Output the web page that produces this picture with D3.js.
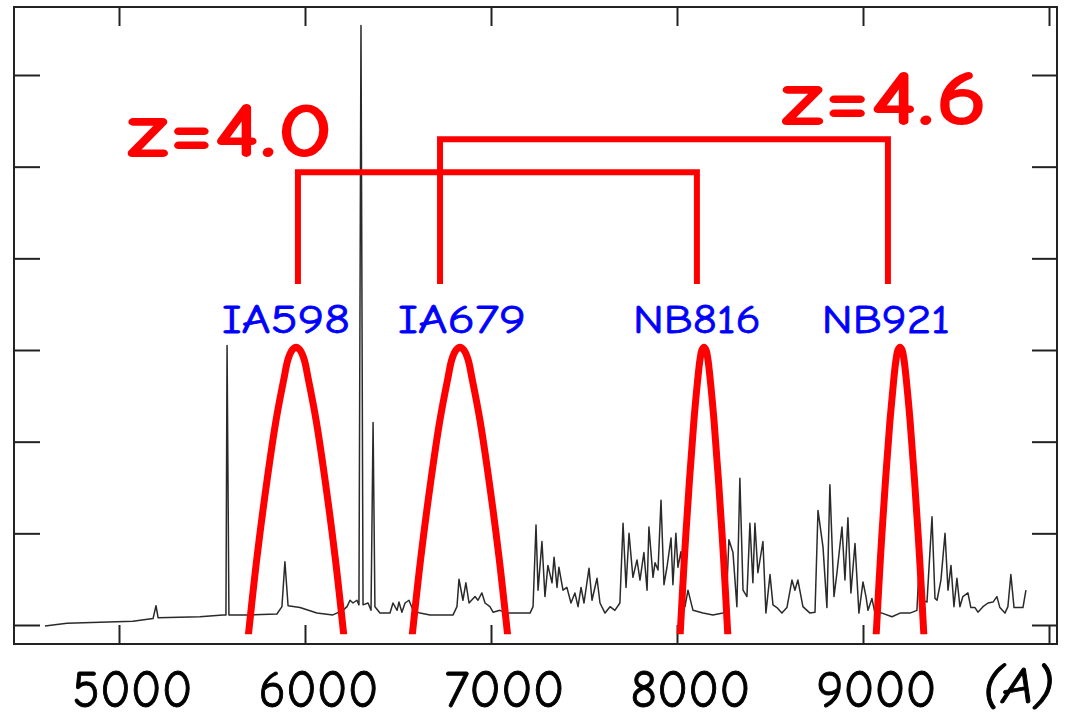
<!DOCTYPE html>
<html><head><meta charset="utf-8">
<script src="https://cdn.jsdelivr.net/npm/d3@7"></script>
<style>body{margin:0;background:#fff}svg{display:block}</style>
</head><body>
<script>
// ---- data ----
const wavelength = [4602,4720,4898,5075,5183,5199,5210,5435,5559,5575,5581,5591,5704,5849,5876,5892,5909,5973,6064,6150,6204,6226,6242,6258,6279,6290,6301,6312,6339,6355,6366,6376,6403,6457,6473,6495,6505,6521,6538,6559,6581,6618,6672,6796,6817,6828,6849,6865,6882,6914,6930,6951,6968,6994,7011,7048,7086,7210,7226,7242,7253,7274,7290,7306,7328,7339,7355,7365,7387,7408,7430,7451,7468,7484,7500,7527,7543,7570,7586,7613,7640,7666,7693,7710,7726,7742,7763,7785,7801,7822,7839,7849,7871,7882,7898,7914,7930,7946,7968,7978,7994,8005,8021,8043,8059,8086,8140,8193,8247,8263,8279,8301,8322,8338,8355,8376,8392,8408,8419,8435,8462,8478,8500,8516,8537,8564,8591,8618,8634,8650,8677,8715,8742,8758,8785,8806,8822,8844,8860,8887,8903,8919,8935,8957,8978,9000,9016,9027,9048,9064,9102,9156,9199,9252,9290,9306,9322,9344,9371,9387,9398,9419,9441,9457,9473,9489,9505,9521,9537,9564,9580,9602,9618,9645,9672,9699,9720,9736,9763,9779,9795,9812,9844,9860,9876];
const flux = [-0.01,0.02,0.03,0.04,0.07,0.21,0.08,0.09,0.11,0.11,3.05,0.11,0.11,0.12,0.20,0.69,0.21,0.19,0.13,0.11,0.16,0.20,0.27,0.24,0.27,0.22,6.54,0.22,0.24,0.16,2.21,0.20,0.13,0.13,0.24,0.16,0.25,0.14,0.24,0.27,0.16,0.13,0.11,0.11,0.20,0.50,0.27,0.46,0.24,0.31,0.27,0.35,0.24,0.20,0.14,0.16,0.13,0.13,0.20,1.09,0.38,0.91,0.31,0.65,0.46,0.74,0.41,0.63,0.38,0.41,0.24,0.35,0.20,0.41,0.24,0.62,0.27,0.51,0.24,0.13,0.20,0.16,0.24,1.11,0.41,1.00,0.52,0.71,0.49,0.79,0.38,1.07,0.52,0.68,0.60,1.36,0.44,0.63,0.95,0.44,1.00,0.63,0.80,0.20,0.38,0.16,0.13,0.11,0.13,0.14,0.93,0.79,0.20,1.60,0.38,0.31,1.11,0.46,1.11,0.57,0.91,0.13,0.55,0.22,0.19,0.13,0.19,0.49,0.38,0.49,0.20,0.13,0.14,1.25,0.85,0.19,1.53,0.31,0.57,1.07,0.49,1.17,0.35,0.89,0.13,0.47,0.31,0.16,0.29,0.13,0.13,0.09,0.13,0.13,0.16,0.82,0.27,0.25,1.18,0.29,0.27,0.49,1.00,0.38,0.65,0.20,0.51,0.20,0.31,0.35,0.19,0.19,0.14,0.20,0.24,0.25,0.31,0.19,0.13,0.20,0.55,0.19,0.19,0.19,0.38];

const xTicks = [5000,6000,7000,8000,9000,10000];
const xTickLabels = ["5000","6000","7000","8000","9000",""];
const yTicks = [0,1,2,3,4,5,6];
const unitLabel = "(A)";

const filterNames = ["IA598","IA679","NB816","NB921"];
const filterLabelWl = [5898,6844,8107,9123];
const filterLabelFlux = 3.19;
const filterWl = [
  [5694,5742,5796,5844,5885,5909,5931,5952,5973,5995,6019,6060,6108,6162,6210],
  [6575,6623,6677,6725,6766,6790,6812,6833,6854,6876,6900,6941,6989,7043,7091],
  [8016,8040,8067,8091,8111,8124,8134,8145,8156,8166,8179,8199,8223,8250,8274],
  [9070,9094,9121,9145,9165,9178,9188,9199,9210,9220,9233,9253,9277,9304,9328]
];
const filterHeight = [-0.14,0.74,1.58,2.23,2.67,2.90,3.00,3.03,3.00,2.90,2.67,2.23,1.58,0.74,-0.14];
const filterCut = -0.10;

const zLabels = ["z=4.0","z=4.6"];
const zLabelWl = [5597,9115];
const zLabelFlux = [5.11,5.45];
const bracketLeft = [5962,6726];
const bracketRight = [8107,9134];
const bracketTop = [4.94,5.30];
const bracketBottom = 3.72;

// ---- drawing ----
const W = 1065, H = 720;
const svg = d3.select("body").append("svg").attr("width", W).attr("height", H);
svg.append("rect").attr("width", W).attr("height", H).attr("fill", "#fff");

const x = d3.scaleLinear().domain([5000, 9000]).range([119, 863]);
const y = d3.scaleLinear().domain([0, 6]).range([625, 75]);
const frame = {l: 14, r: 1057, t: 7, b: 644};

const font = "'Comic Sans MS','Comic Neue','DejaVu Sans',sans-serif";

// axes (inward ticks)
function styleAxis(g) {
  g.select(".domain").remove();
  g.selectAll(".tick line").attr("stroke", "#222").attr("stroke-width", 2);
}
const gb = svg.append("g").attr("transform", `translate(0,${frame.b})`)
  .call(d3.axisBottom(x).tickValues(xTicks).tickSizeInner(-19).tickSizeOuter(0)
    .tickFormat((d, i) => xTickLabels[i]));
styleAxis(gb);
gb.selectAll(".tick text")
  .attr("y", 63).attr("dy", 0).attr("dx", 13)
  .attr("fill", "#000").attr("stroke", "#000").attr("stroke-width", 0.9)
  .attr("font-family", font).attr("font-size", 52)
  .each(function(d, i) { if (xTickLabels[i]) d3.select(this).attr("textLength", 120).attr("lengthAdjust", "spacingAndGlyphs"); });

const gt = svg.append("g").attr("transform", `translate(0,${frame.t})`)
  .call(d3.axisTop(x).tickValues(xTicks).tickSizeInner(-19).tickSizeOuter(0).tickFormat(""));
styleAxis(gt);
const gl = svg.append("g").attr("transform", `translate(${frame.l},0)`)
  .call(d3.axisLeft(y).tickValues(yTicks).tickSizeInner(-26).tickSizeOuter(0).tickFormat(""));
styleAxis(gl);
const gr = svg.append("g").attr("transform", `translate(${frame.r},0)`)
  .call(d3.axisRight(y).tickValues(yTicks).tickSizeInner(-25).tickSizeOuter(0).tickFormat(""));
styleAxis(gr);

svg.append("rect")
  .attr("x", frame.l).attr("y", frame.t)
  .attr("width", frame.r - frame.l).attr("height", frame.b - frame.t)
  .attr("fill", "none").attr("stroke", "#222").attr("stroke-width", 2);

// unit label
svg.append("text").attr("x", 1018).attr("y", 703)
  .attr("text-anchor", "middle").attr("font-family", font).attr("font-style", "italic")
  .attr("font-size", 50).attr("textLength", 71).attr("lengthAdjust", "spacingAndGlyphs")
  .attr("fill", "#000").attr("stroke", "#000").attr("stroke-width", 0.9).text(unitLabel);

// spectrum
const spec = wavelength.map((w, i) => [w, flux[i]]);
svg.append("path").datum(spec)
  .attr("d", d3.line().x(d => x(d[0])).y(d => y(d[1])))
  .attr("fill", "none").attr("stroke", "#2a2a2a").attr("stroke-width", 1.5)
  .attr("stroke-linejoin", "round");

// filter curves
svg.append("clipPath").attr("id", "fclip").append("rect")
  .attr("x", 0).attr("y", 0).attr("width", W).attr("height", y(filterCut));
const fline = d3.line().x(d => x(d[0])).y(d => y(d[1])).curve(d3.curveCatmullRom.alpha(0.5));
filterWl.forEach((ws, k) => {
  svg.append("path").datum(ws.map((w, i) => [w, filterHeight[i]]))
    .attr("d", fline).attr("clip-path", "url(#fclip)")
    .attr("fill", "none").attr("stroke", "#ff0000").attr("stroke-width", 7);
});

// filter labels
filterNames.forEach((n, k) => {
  svg.append("text").attr("x", x(filterLabelWl[k])).attr("y", y(filterLabelFlux))
    .attr("text-anchor", "middle").attr("font-family", font).attr("font-size", 41)
    .attr("textLength", 128).attr("lengthAdjust", "spacingAndGlyphs")
    .attr("fill", "#0000ff").attr("stroke", "#0000ff").attr("stroke-width", 0.8).text(n);
});

// redshift brackets
zLabels.forEach((z, k) => {
  svg.append("path")
    .attr("d", `M${x(bracketLeft[k])},${y(bracketBottom)}V${y(bracketTop[k])}H${x(bracketRight[k])}V${y(bracketBottom)}`)
    .attr("fill", "none").attr("stroke", "#ff0000").attr("stroke-width", 6);
  svg.append("text").attr("x", x(zLabelWl[k])).attr("y", y(zLabelFlux[k]))
    .attr("text-anchor", "middle").attr("font-family", font).attr("font-weight", "bold")
    .attr("font-size", 78).attr("textLength", 206).attr("lengthAdjust", "spacingAndGlyphs")
    .attr("fill", "#ff0000").text(z);
});
</script>
</body></html>
